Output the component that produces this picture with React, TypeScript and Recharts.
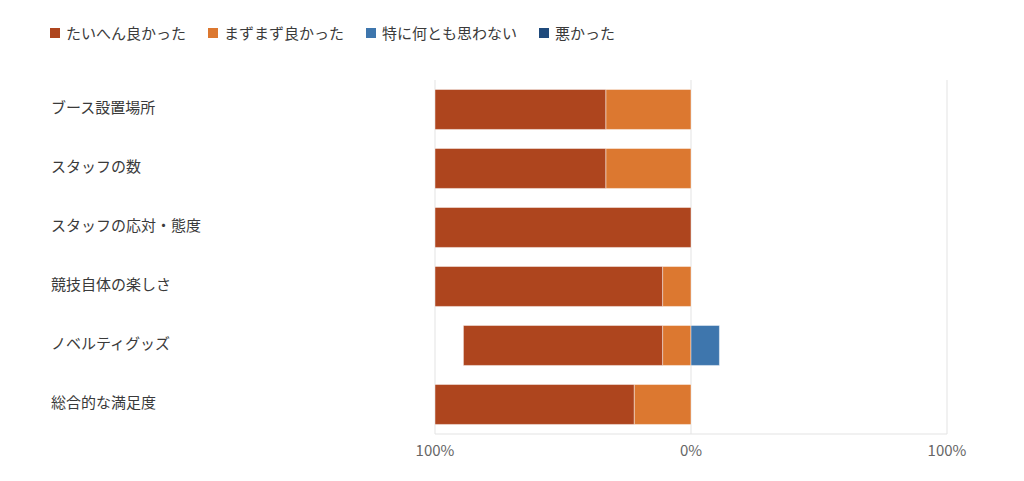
import React from "react";
import {
  BarChart,
  Bar,
  XAxis,
  YAxis,
  CartesianGrid,
} from "recharts";

const categories = [
  "ブース設置場所",
  "スタッフの数",
  "スタッフの応対・態度",
  "競技自体の楽しさ",
  "ノベルティグッズ",
  "総合的な満足度",
];

// percentages (9 respondents)
const veryGood = [66.7, 66.7, 100, 88.9, 77.8, 77.8];
const good = [33.3, 33.3, 0, 11.1, 11.1, 22.2];
const neutral = [0, 0, 0, 0, 11.1, 0];
const bad = [0, 0, 0, 0, 0, 0];

const xTicks = [-100, 0, 100];

const SERIES = [
  { key: "veryGood", name: "たいへん良かった", color: "#AE451E" },
  { key: "good", name: "まずまず良かった", color: "#DC7830" },
  { key: "neutral", name: "特に何とも思わない", color: "#3E76AD" },
  { key: "bad", name: "悪かった", color: "#1F4A7C" },
];

// positive answers go to the left of 0
const data = categories.map((name, i) => ({
  name,
  veryGood: -veryGood[i],
  good: -good[i],
  neutral: neutral[i],
  bad: bad[i],
}));

const FONT = '"Noto Sans CJK JP", "Noto Sans", sans-serif';

function CategoryTick(props: any) {
  const { y, payload } = props;
  return (
    <text
      x={51}
      y={y}
      dy={3}
      textAnchor="start"
      fontSize={15}
      fill="#3a3a3a"
      fontFamily={FONT}
    >
      {payload.value}
    </text>
  );
}

function TopLegend() {
  return (
    <div
      style={{
        position: "absolute",
        left: 50,
        top: 23,
        display: "flex",
        gap: 22,
        fontFamily: FONT,
        fontSize: 15,
        color: "#3a3a3a",
        lineHeight: "20px",
      }}
    >
      {SERIES.map((s) => (
        <div key={s.key} style={{ display: "flex", alignItems: "center" }}>
          <span
            style={{
              display: "inline-block",
              width: 10,
              height: 10,
              background: s.color,
              marginRight: 6,
            }}
          />
          {s.name}
        </div>
      ))}
    </div>
  );
}

export default function App() {
  // stack order: nearest to zero first
  const order = ["good", "veryGood", "neutral", "bad"];
  return (
    <div
      style={{
        position: "absolute",
        left: 0,
        top: 0,
        width: 1024,
        height: 481,
        background: "#fff",
      }}
    >
      <TopLegend />
      <BarChart
        width={1024}
        height={481}
        data={data}
        layout="vertical"
        stackOffset="sign"
        barCategoryGap="16%"
        margin={{ top: 80, right: 77, bottom: 0, left: 0 }}
      >
        <CartesianGrid horizontal={false} stroke="#e3e3e3" />
        <XAxis
          type="number"
          domain={[-100, 100]}
          ticks={xTicks}
          tickFormatter={(v: number) => `${Math.abs(v)}%`}
          tickLine={false}
          axisLine={{ stroke: "#e3e3e3" }}
          tick={{ fill: "#666", fontSize: 15, fontFamily: FONT }}
          tickMargin={5}
          height={47}
        />
        <YAxis
          type="category"
          dataKey="name"
          width={435}
          axisLine={false}
          tickLine={false}
          tick={<CategoryTick />}
        />
        {order.map((k) => {
          const s = SERIES.find((x) => x.key === k)!;
          return (
            <Bar
              key={k}
              dataKey={k}
              name={s.name}
              stackId="a"
              fill={s.color}
              stroke="rgba(255,255,255,0.45)"
              strokeWidth={1}
              isAnimationActive={false}
            />
          );
        })}
      </BarChart>
    </div>
  );
}
